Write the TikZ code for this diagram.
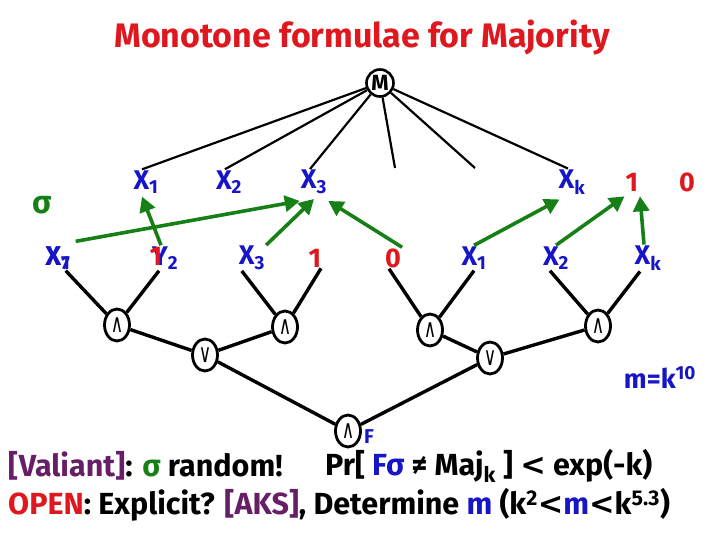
\documentclass[tikz,border=0pt]{standalone}
\usepackage{fontspec}
\setmainfont{Fira Sans}
\newfontfamily\symfont{DejaVu Sans}
\usetikzlibrary{arrows.meta,shapes.geometric}
\definecolor{titlered}{RGB}{222,24,30}
\definecolor{varblue}{RGB}{22,22,200}
\definecolor{siggreen}{RGB}{22,128,22}
\definecolor{citepurple}{RGB}{102,30,102}
\newcommand{\andsym}{\scalebox{1}[1.5]{∧}}
\newcommand{\orsym}{\scalebox{1}[1.5]{∨}}

\begin{document}
\begin{tikzpicture}[x=1pt,y=-1pt,
  every node/.style={font=\bfseries\fontsize{27}{28}\selectfont},
  var/.style={text=varblue,inner sep=1pt},
  bit/.style={text=titlered,inner sep=1pt},
  gate/.style={draw,ellipse,line width=2.8pt,minimum width=25pt,minimum height=32pt,inner sep=0pt,font=\symfont\fontsize{17}{17}\selectfont},
  wire/.style={line width=3.4pt},
  thinwire/.style={line width=2.2pt},
  sigarrow/.style={-{Triangle[length=15pt,width=16pt]},siggreen,line width=3.6pt},
  textline/.style={anchor=west,inner sep=0pt,font=\bfseries\fontsize{30.5}{32}\selectfont}
]
  \useasboundingbox (0,0) rectangle (720,540);

  % title
  \node[text=titlered,font=\bfseries\fontsize{34}{36}\selectfont] (title) at (362,37) {Monotone formulae for Majority};

  % majority gate and its inputs
  \node[draw,circle,line width=2.6pt,minimum size=27pt,inner sep=0pt,font=\bfseries\fontsize{22}{22}\selectfont] (maj) at (380,83) {M};
  \node[var] (t1) at (146,182) {X\textsubscript{1}};
  \node[var] (t2) at (229,182) {X\textsubscript{2}};
  \node[var] (t3) at (314,182) {X\textsubscript{3}};
  \node[var] (tk) at (572,182) {X\textsubscript{k}};
  \node[bit] (one) at (632,182) {1};
  \node[bit] (zero) at (687,182) {0};
  \coordinate (t4) at (395,168);
  \coordinate (t5) at (475,168);
  \foreach \t in {t1,t2,t3,tk}
    \draw[thinwire] (maj) -- ([xshift=-4pt]\t.north);
  \foreach \t in {t4,t5}
    \draw[thinwire] (maj) -- (\t);

  \node[text=siggreen,font=\bfseries\fontsize{32}{32}\selectfont] (sigma) at (42,205) {σ};

  % leaves
  \node[var] (l1) at (58,258) {X\textsubscript{1}};
  \node[var] at (58,258) {X\textsubscript{7}};
  \node[var] (l2) at (165,258) {Y\textsubscript{2}};
  \node[bit] at (156,256) {1};
  \node[var] (l3) at (252,258) {X\textsubscript{3}};
  \node[bit] (l4) at (315,258) {1};
  \node[bit] (l5) at (393,258) {0};
  \node[var] (l6) at (474,258) {X\textsubscript{1}};
  \node[var] (l7) at (556,258) {X\textsubscript{2}};
  \node[var] (l8) at (648,258) {X\textsubscript{k}};

  % permutation sigma
  \draw[sigarrow] ([xshift=4pt,yshift=4pt]l1.north east) -- ([yshift=-6pt]t3.south west);
  \draw[sigarrow] ([xshift=-4pt]l2.north) -- ([xshift=-4pt,yshift=-2pt]t1.south);
  \draw[sigarrow] (l3.north east) -- ([yshift=-4pt]t3.south);
  \draw[sigarrow] (l5.north east) -- ([yshift=-6pt]t3.south east);
  \draw[sigarrow] (l6.north) -- ([xshift=2pt,yshift=-4pt]tk.south west);
  \draw[sigarrow] (l7.north) -- ([yshift=-4pt]one.south west);
  \draw[sigarrow] ([xshift=-4pt]l8.north) -- ([xshift=8pt,yshift=-4pt]one.south);

  % formula F
  \node[gate] (g1) at (117,325) {\andsym};
  \node[gate] (g2) at (285,327) {\andsym};
  \node[gate] (g3) at (430,330) {\andsym};
  \node[gate] (g4) at (598,326) {\andsym};
  \node[gate] (v1) at (205,355) {\orsym};
  \node[gate] (v2) at (490,358) {\orsym};
  \node[gate] (f) at (348,431) {\andsym};
  \node[var,font=\bfseries\fontsize{20}{20}\selectfont] (flabel) at (369,437) {F};

  \draw[wire] ([xshift=-6pt]l1.south east) -- (g1);
  \draw[wire] ([xshift=-6pt]l2.south) -- (g1);
  \draw[wire] ([xshift=4pt]l3.south west) -- (g2);
  \draw[wire] ([xshift=6pt]l4.south) -- (g2);
  \draw[wire] ([xshift=-4pt]l5.south) -- (g3);
  \draw[wire] (l6.south) -- (g3);
  \draw[wire] ([xshift=-6pt]l7.south) -- (g4);
  \draw[wire] ([xshift=-8pt]l8.south) -- (g4);
  \draw[wire] (g1) -- (v1);
  \draw[wire] (g2) -- (v1);
  \draw[wire] (g3) -- (v2);
  \draw[wire] (g4) -- (v2);
  \draw[wire] (v1) -- (f);
  \draw[wire] (v2) -- (f);

  \node[var,font=\bfseries\fontsize{27}{27}\selectfont] (msize) at (660,377) {m=k\textsuperscript{10}};

  % results
  \node[textline] (valiant) at (8,466) {\textcolor{citepurple}{[Valiant]}: \textcolor{siggreen}{σ} random!};
  \node[textline] (prob) at (325,466) {Pr[ \textcolor{varblue}{Fσ} ≠ Maj\textsubscript{k} ] {\symfont<} exp(-k)};
  \node[textline] (open) at (8,505) {\textcolor{titlered}{OPEN}: Explicit? \textcolor{citepurple}{[AKS]}, Determine \textcolor{varblue}{m} (k\textsuperscript{2}{\symfont<}\textcolor{varblue}{m}{\symfont<}k\textsuperscript{5.3})};
\end{tikzpicture}
\end{document}
